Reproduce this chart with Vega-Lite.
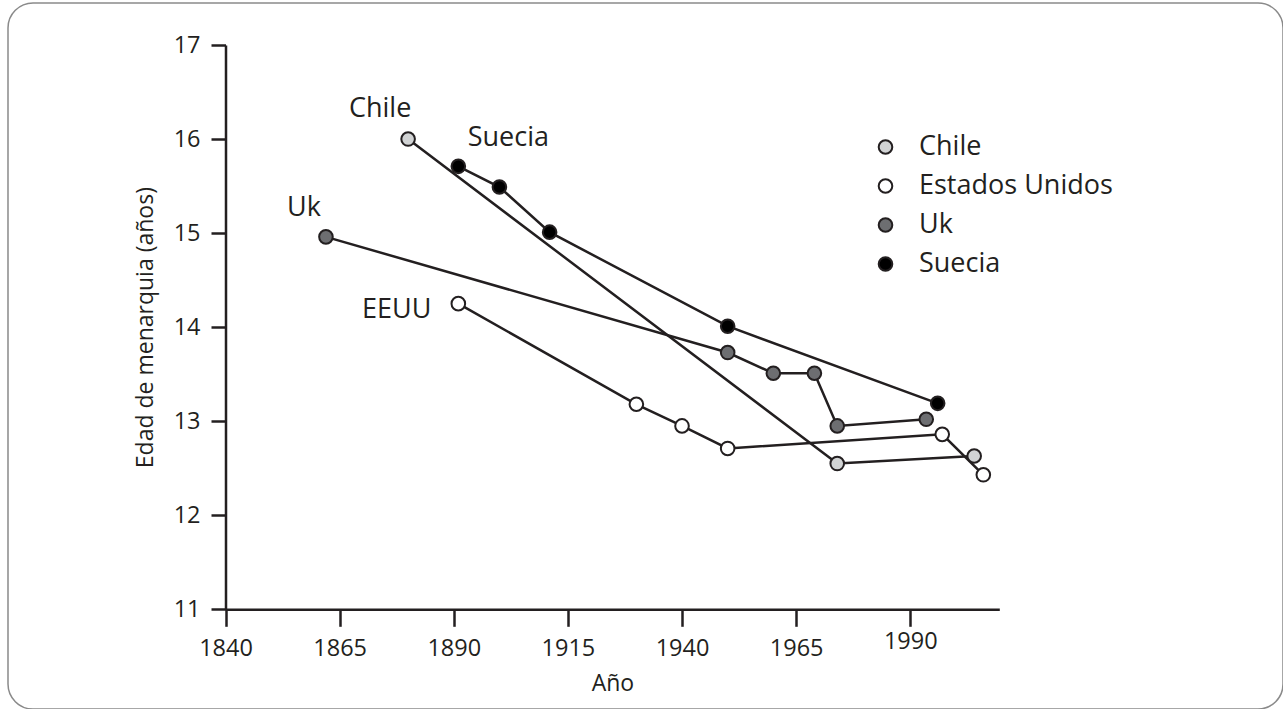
{
  "$schema": "https://vega.github.io/schema/vega-lite/v6.json",
  "width": 1275,
  "height": 706,
  "autosize": {"type": "none"},
  "padding": {"left": 8, "top": 3, "right": 0, "bottom": 0},
  "background": "white",
  "config": {
    "font": "Open Sans",
    "view": {"stroke": "#8a8a8a", "strokeWidth": 1.5, "cornerRadius": 25}
  },
  "data": {
    "values": [
      {"pais": "Chile", "anio": 1880, "edad": 16.0},
      {"pais": "Chile", "anio": 1974, "edad": 12.55},
      {"pais": "Chile", "anio": 2004, "edad": 12.63},
      {"pais": "Estados Unidos", "anio": 1891, "edad": 14.25},
      {"pais": "Estados Unidos", "anio": 1930, "edad": 13.18},
      {"pais": "Estados Unidos", "anio": 1940, "edad": 12.95},
      {"pais": "Estados Unidos", "anio": 1950, "edad": 12.71},
      {"pais": "Estados Unidos", "anio": 1997, "edad": 12.86},
      {"pais": "Estados Unidos", "anio": 2006, "edad": 12.43},
      {"pais": "Uk", "anio": 1862, "edad": 14.96},
      {"pais": "Uk", "anio": 1950, "edad": 13.73},
      {"pais": "Uk", "anio": 1960, "edad": 13.51},
      {"pais": "Uk", "anio": 1969, "edad": 13.51},
      {"pais": "Uk", "anio": 1974, "edad": 12.95},
      {"pais": "Uk", "anio": 1993.5, "edad": 13.02},
      {"pais": "Suecia", "anio": 1891, "edad": 15.71},
      {"pais": "Suecia", "anio": 1900, "edad": 15.49},
      {"pais": "Suecia", "anio": 1911, "edad": 15.01},
      {"pais": "Suecia", "anio": 1950, "edad": 14.01},
      {"pais": "Suecia", "anio": 1996, "edad": 13.19}
    ]
  },
  "encoding": {
    "x": {
      "field": "anio",
      "type": "quantitative",
      "scale": {"domain": [1840, 2009.5], "range": [217.5, 991.3], "nice": false, "zero": false},
      "axis": {
        "values": [1840, 1865, 1890, 1915, 1940, 1965, 1990],
        "format": "d",
        "offset": -99.7,
        "grid": false,
        "labelFlush": false,
        "labelOverlap": false,
        "domainColor": "#231f20",
        "domainWidth": 2.5,
        "tickColor": "#231f20",
        "tickWidth": 2.5,
        "tickSize": 17,
        "labelFont": "Open Sans",
        "labelFontSize": 23.5,
        "labelColor": "#231f20",
        "labelPadding": {"condition": {"test": "datum.value == 1990", "value": 3}, "value": 10},
        "title": "Año",
        "titleFont": "Open Sans",
        "titleFontSize": 23,
        "titleFontWeight": "normal",
        "titleColor": "#231f20",
        "titlePadding": 13
      }
    },
    "y": {
      "field": "edad",
      "type": "quantitative",
      "scale": {"domain": [11, 17], "range": [606.3, 42], "nice": false, "zero": false},
      "axis": {
        "values": [11, 12, 13, 14, 15, 16, 17],
        "offset": -217.5,
        "grid": false,
        "labelFlush": false,
        "domainColor": "#231f20",
        "domainWidth": 2.5,
        "tickColor": "#231f20",
        "tickWidth": 2.5,
        "tickSize": 14.5,
        "labelFont": "Open Sans",
        "labelFontSize": 23.5,
        "labelColor": "#231f20",
        "labelPadding": 11,
        "title": "Edad de menarquia (años)",
        "titleFont": "Open Sans",
        "titleFontSize": 23,
        "titleFontWeight": "normal",
        "titleColor": "#231f20",
        "titlePadding": 16
      }
    }
  },
  "layer": [
    {
      "mark": {"type": "line", "color": "#231f20", "strokeWidth": 2.5},
      "encoding": {"detail": {"field": "pais", "type": "nominal"}}
    },
    {
      "mark": {"type": "point", "shape": "circle", "filled": true, "size": 185, "stroke": "#231f20", "strokeWidth": 2, "opacity": 1},
      "encoding": {
        "fill": {
          "field": "pais",
          "type": "nominal",
          "scale": {"domain": ["Chile", "Estados Unidos", "Uk", "Suecia"], "range": ["#d1d3d4", "#ffffff", "#6d6e71", "#000000"]},
          "legend": {
            "orient": "none",
            "legendX": 864,
            "legendY": 130.5,
            "title": null,
            "padding": 0,
            "symbolType": "circle",
            "symbolSize": 185,
            "symbolStrokeColor": "#231f20",
            "symbolStrokeWidth": 2,
            "symbolOpacity": 1,
            "labelFont": "Open Sans",
            "labelFontSize": 27,
            "labelColor": "#231f20",
            "labelOffset": 20,
            "labelLimit": 400,
            "rowPadding": 11
          }
        }
      }
    },
    {
      "transform": [{"filter": "datum.pais == 'Chile' && datum.anio == 1880"}],
      "mark": {"type": "text", "font": "Open Sans", "fontSize": 27, "color": "#231f20", "align": "center", "baseline": "alphabetic", "dx": -28, "dy": -22},
      "encoding": {"text": {"value": "Chile"}}
    },
    {
      "transform": [{"filter": "datum.pais == 'Suecia' && datum.anio == 1891"}],
      "mark": {"type": "text", "font": "Open Sans", "fontSize": 27, "color": "#231f20", "align": "center", "baseline": "alphabetic", "dx": 50, "dy": -20},
      "encoding": {"text": {"value": "Suecia"}}
    },
    {
      "transform": [{"filter": "datum.pais == 'Uk' && datum.anio == 1862"}],
      "mark": {"type": "text", "font": "Open Sans", "fontSize": 27, "color": "#231f20", "align": "center", "baseline": "alphabetic", "dx": -22, "dy": -21},
      "encoding": {"text": {"value": "Uk"}}
    },
    {
      "transform": [{"filter": "datum.pais == 'Estados Unidos' && datum.anio == 1891"}],
      "mark": {"type": "text", "font": "Open Sans", "fontSize": 27, "color": "#231f20", "align": "right", "baseline": "alphabetic", "dx": -27, "dy": 14},
      "encoding": {"text": {"value": "EEUU"}}
    }
  ]
}
